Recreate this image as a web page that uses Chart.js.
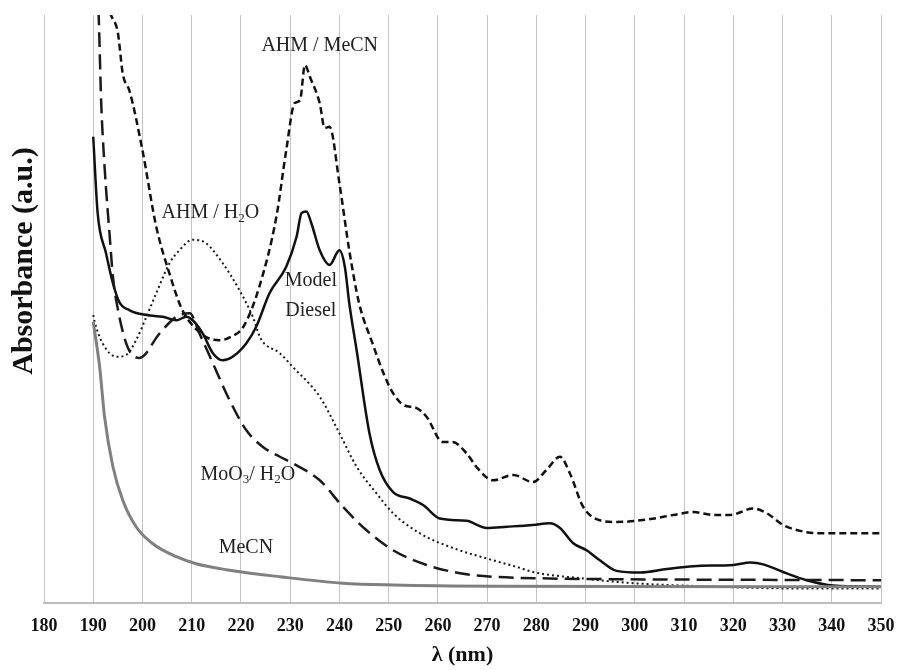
<!DOCTYPE html>
<html>
<head>
<meta charset="utf-8">
<script src="https://cdn.jsdelivr.net/npm/chart.js@4.4.0/dist/chart.umd.min.js"></script>
<style>
  html, body { margin: 0; padding: 0; background: #fff; }
</style>
</head>
<body>
<canvas id="uvChart" width="897" height="670"></canvas>
<script>
// wavelength (nm) / absorbance (a.u.)
const ahmMecnX = [192, 193.6, 195, 196, 197.4, 200, 202.8, 205.5, 208, 211, 213.5, 215.7, 218, 220.5, 223.8, 227.2, 229.2, 230.9, 232, 233, 234, 236, 237, 238, 240, 242, 244, 246.8, 249, 250.9, 253, 255.6, 257.7, 261, 263, 265.8, 268, 271.2, 275.3, 279.3, 282, 284.8, 286.8, 289.5, 292.9, 296.3, 303.1, 307.8, 311.9, 316, 319.4, 324, 326.8, 330.1, 333.6, 337, 350];
const ahmMecnY = [104, 100, 97, 90, 87, 77, 64, 56, 50, 46.5, 45, 44.7, 45.3, 47, 54, 65.7, 77, 85, 85.5, 91.5, 89.5, 85, 80.8, 81, 71.4, 60, 51, 44, 39, 35.7, 33.7, 33.2, 31.7, 27.4, 27.4, 25.5, 23, 20.9, 21.8, 20.6, 22.6, 24.9, 22.1, 16.4, 14.1, 13.8, 14.3, 15, 15.5, 15, 15, 16.1, 15.3, 13.3, 12.3, 11.9, 11.9];

const dieselX = [190, 190.9, 192.6, 194, 195.3, 197.4, 200.8, 204.1, 206.9, 208.9, 210.2, 212.2, 214.3, 216.3, 218.3, 221.1, 223.1, 225.8, 229.2, 231.3, 232.3, 233.3, 234.3, 236, 238, 240, 241.1, 242, 243.5, 246.1, 248.2, 250.9, 254.3, 257, 260.4, 265.8, 269.9, 274, 279.3, 282.7, 284.8, 287.5, 290.2, 292.9, 296.3, 301.1, 306.5, 311.9, 320, 323.5, 326.1, 330.1, 334.9, 340.3, 350];
const dieselY = [79.3, 66.3, 59.5, 54.4, 51.2, 49.8, 49, 48.7, 48.1, 48.7, 48.1, 45.9, 42.5, 41.3, 41.9, 44.2, 47, 52.7, 57.2, 62.3, 66.3, 66.6, 64.6, 60, 57.5, 60, 57.2, 51, 43, 28.9, 22.6, 18.9, 17.8, 16.7, 14.4, 14, 12.8, 13, 13.3, 13.6, 12.8, 10.2, 9, 7.3, 5.5, 5.2, 5.8, 6.3, 6.5, 6.9, 6.6, 5.3, 3.9, 3, 2.8];

const moo3X = [190.3, 191.1, 191.6, 192.3, 193.3, 194, 195, 197, 199.4, 203.5, 206.9, 209.6, 211.5, 214.3, 217.7, 221.1, 224.4, 227.9, 230.5, 236, 240.7, 245.5, 250.9, 257.7, 264.5, 271.2, 282.7, 292.9, 350];
const moo3Y = [112, 100, 85.5, 74.2, 62.9, 55.5, 50, 43.5, 41.7, 45.9, 48.7, 49.3, 46, 40.8, 34.5, 29.4, 26.6, 24.9, 23.8, 20.9, 16.4, 12.4, 9, 6.5, 5.1, 4.5, 4.2, 4.1, 3.9];

const ahmH2oX = [190, 190.3, 191.9, 194.7, 196.7, 198.7, 200.8, 202.8, 205.5, 207.5, 210.2, 212.9, 216.3, 219.7, 222.4, 224, 227.9, 230.5, 236, 240, 243.5, 247.5, 250.9, 256.3, 263, 271.2, 276.7, 279.3, 289.5, 299.7, 313.2, 333.6, 350];
const ahmH2oY = [49, 47.8, 44.2, 41.9, 42.2, 44.7, 48.7, 52.7, 57.8, 60, 61.8, 61.2, 57.8, 53.2, 48.7, 45, 42.5, 40.2, 35.1, 28.9, 23.2, 18.7, 15.3, 11.9, 9.4, 7.3, 6, 5.3, 4.2, 3.4, 2.9, 2.5, 2.5];

const mecnX = [190, 191.3, 192.3, 194, 196, 198.7, 202.1, 206.9, 210.9, 217.7, 227.9, 240.7, 250.9, 271.2, 350];
const mecnY = [47.8, 40.2, 31.7, 23.2, 17.5, 13, 10.1, 7.9, 6.7, 5.6, 4.5, 3.4, 3.1, 2.9, 2.8];

const xTicks = [180, 350, 10];

// curve labels: [text parts, wavelength, absorbance]; a part in an array is a subscript
const curveLabels = [
  [['AHM / MeCN'], 236, 94.7],
  [['AHM / H', ['2'], 'O'], 213.8, 66.3],
  [['Model'], 234.2, 54.8],
  [['Diesel'], 234.2, 49.8],
  [['MoO', ['3'], '/ H', ['2'], 'O'], 221.4, 21.8],
  [['MeCN'], 221, 9.4]
];

const toPoints = (xs, ys) => xs.map((x, i) => ({ x: x, y: ys[i] }));

const serif = '"Liberation Serif", "Times New Roman", serif';

const labelPlugin = {
  id: 'curveLabels',
  afterDatasetsDraw(chart) {
    const { ctx, scales } = chart;
    ctx.save();
    ctx.fillStyle = '#222';
    ctx.textBaseline = 'middle';
    curveLabels.forEach(([parts, lx, ly]) => {
      const big = '20px ' + serif, small = '13px ' + serif;
      let w = 0;
      parts.forEach(p => {
        ctx.font = Array.isArray(p) ? small : big;
        w += ctx.measureText(Array.isArray(p) ? p[0] : p).width;
      });
      let px = scales.x.getPixelForValue(lx) - w / 2;
      const py = scales.y.getPixelForValue(ly);
      ctx.textAlign = 'left';
      parts.forEach(p => {
        const sub = Array.isArray(p);
        const t = sub ? p[0] : p;
        ctx.font = sub ? small : big;
        ctx.fillText(t, px, sub ? py + 5 : py);
        px += ctx.measureText(t).width;
      });
    });
    // y axis title
    ctx.translate(24, 261);
    ctx.rotate(-Math.PI / 2);
    ctx.textAlign = 'center';
    ctx.fillStyle = '#111';
    ctx.font = 'bold 30px ' + serif;
    ctx.fillText('Absorbance (a.u.)', 0, 0);
    ctx.restore();
  }
};

const line = (label, xs, ys, color, width, dash) => ({
  label: label,
  data: toPoints(xs, ys),
  borderColor: color,
  borderWidth: width,
  borderDash: dash,
  pointRadius: 0,
  fill: false,
  cubicInterpolationMode: 'monotone'
});

new Chart(document.getElementById('uvChart').getContext('2d'), {
  type: 'line',
  data: {
    datasets: [
      line('MeCN', mecnX, mecnY, '#808080', 3, []),
      line('AHM / H2O', ahmH2oX, ahmH2oY, '#1a1a1a', 2, [2, 3]),
      line('MoO3 / H2O', moo3X, moo3Y, '#1a1a1a', 2.5, [15, 7]),
      line('Model Diesel', dieselX, dieselY, '#111', 2.5, []),
      line('AHM / MeCN', ahmMecnX, ahmMecnY, '#111', 2.5, [7, 4])
    ]
  },
  options: {
    responsive: false,
    animation: false,
    layout: { padding: { top: 15, left: 44, right: 16, bottom: 0 } },
    plugins: {
      legend: { display: false },
      tooltip: { enabled: false }
    },
    scales: {
      x: {
        type: 'linear',
        min: xTicks[0],
        max: xTicks[1],
        ticks: {
          stepSize: xTicks[2],
          padding: 2,
          color: '#111',
          font: { family: serif, size: 18, weight: 'bold', lineHeight: 2.3 }
        },
        grid: { color: '#c4c4c4', lineWidth: 1, drawTicks: false },
        border: { color: '#bdbdbd', width: 2 },
        title: {
          display: true,
          text: 'λ (nm)',
          color: '#111',
          font: { family: serif, size: 22, weight: 'bold', lineHeight: 1 },
          padding: { top: -4.6, bottom: 4 }
        }
      },
      y: {
        display: false,
        min: 0,
        max: 100
      }
    }
  },
  plugins: [labelPlugin]
});
</script>
</body>
</html>
